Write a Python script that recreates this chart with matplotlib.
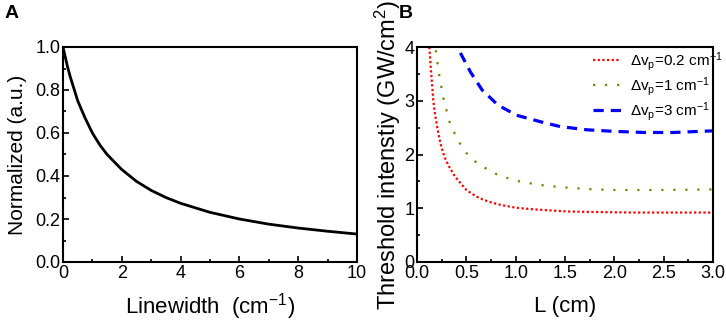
import matplotlib
matplotlib.use('Agg')
import matplotlib.pyplot as plt
from matplotlib.ticker import MultipleLocator

plt.rcParams['font.family'] = ['Liberation Sans', 'DejaVu Sans']
plt.rcParams['mathtext.fontset'] = 'custom'
plt.rcParams['mathtext.rm'] = 'Liberation Sans'
plt.rcParams['mathtext.it'] = 'Liberation Sans:italic'
plt.rcParams['mathtext.bf'] = 'Liberation Sans:bold'

# Panel A: normalized value vs linewidth
linewidth = [0, 0.05, 0.1, 0.15, 0.25, 0.5, 0.75, 1, 1.25, 1.5, 2, 2.5, 3, 3.5, 4,
             5, 6, 7, 8, 9, 10]
normalized = [1.0, 0.97, 0.94, 0.91, 0.86, 0.75, 0.67, 0.60, 0.545, 0.50, 0.43,
              0.375, 0.333, 0.30, 0.273, 0.231, 0.20, 0.176, 0.158, 0.143, 0.13]

# Panel B: threshold intensity vs length
L_red = [0.125, 0.14, 0.149, 0.165, 0.18, 0.2, 0.216, 0.23, 0.25, 0.28, 0.317,
         0.385, 0.50, 0.6, 0.67, 0.75, 0.84, 1.0, 1.18, 1.52, 1.8, 2.2, 2.6, 3.0]
I_red = [4.0, 3.6, 3.39, 3.01, 2.78, 2.56, 2.40, 2.27, 2.12, 1.95, 1.80,
         1.59, 1.34, 1.22, 1.16, 1.11, 1.065, 1.01, 0.98, 0.94, 0.93, 0.92, 0.92, 0.92]

L_olive = [0.19, 0.223, 0.266, 0.327, 0.38, 0.43, 0.50, 0.59, 0.70, 0.81, 0.935,
           1.06, 1.30, 1.55, 1.8, 2.0, 2.5, 3.0]
I_olive = [3.94, 3.50, 3.06, 2.62, 2.40, 2.22, 2.03, 1.87, 1.74, 1.63, 1.55,
           1.49, 1.42, 1.38, 1.35, 1.34, 1.34, 1.35]

L_blue = [0.44, 0.54, 0.66, 0.82, 1.01, 1.25, 1.45, 1.72, 2.0, 2.3, 2.6, 3.0]
I_blue = [3.89, 3.54, 3.2, 2.92, 2.73, 2.61, 2.52, 2.46, 2.43, 2.41, 2.41, 2.44]

labels_b = [r'$\Delta\mathregular{v_p}$=0.2 cm$^\mathregular{-1}$',
            r'$\Delta\mathregular{v_p}$=1 cm$^\mathregular{-1}$',
            r'$\Delta\mathregular{v_p}$=3 cm$^\mathregular{-1}$']

W, H = 726, 323
fig = plt.figure(figsize=(W / 100, H / 100), dpi=100)

axA = fig.add_axes([63 / W, (H - 262) / H, 294 / W, 215 / H])
axB = fig.add_axes([417 / W, (H - 262) / H, 296 / W, 215 / H])


def style(ax):
    for s in ax.spines.values():
        s.set_linewidth(1.5)
    ax.tick_params(which='both', direction='in', top=False, right=False,
                   labelsize=13, width=1.2)
    ax.tick_params(which='major', length=4, pad=2)
    ax.tick_params(which='minor', length=2)


# Panel A
axA.plot(linewidth, normalized, color='black', lw=2)
axA.set_xlim(0, 10)
axA.set_ylim(0, 1.0)
axA.xaxis.set_major_locator(MultipleLocator(2))
axA.xaxis.set_minor_locator(MultipleLocator(1))
axA.yaxis.set_major_locator(MultipleLocator(0.2))
axA.yaxis.set_minor_locator(MultipleLocator(0.1))
axA.set_yticklabels([f'{v:.1f}' for v in axA.get_yticks()])
style(axA)
axA.set_xlabel(r'Linewidth  (cm$^\mathregular{-1}$)', fontsize=16, labelpad=7)
axA.set_ylabel('Normalized (a.u.)', fontsize=15, labelpad=6)
fig.text(12 / W, 1 - 13 / H, 'A', fontsize=14, fontweight='bold', va='center', ha='center')

# Panel B
axB.plot(L_red, I_red, color='red', lw=1.6, dashes=(1, 1.1), label=labels_b[0])
axB.plot(L_olive, I_olive, color='#808000', lw=1.6, dashes=(1, 4.4), label=labels_b[1])
axB.plot(L_blue, I_blue, color='blue', lw=2.3, dashes=(3.2, 2.2), label=labels_b[2])
axB.set_xlim(0, 3.0)
axB.set_ylim(0, 4)
axB.xaxis.set_major_locator(MultipleLocator(0.5))
axB.xaxis.set_minor_locator(MultipleLocator(0.25))
axB.yaxis.set_major_locator(MultipleLocator(1))
axB.yaxis.set_minor_locator(MultipleLocator(0.5))
style(axB)
axB.set_xlabel('L (cm)', fontsize=16, labelpad=10)
axB.set_ylabel(r'Threshold intenstiy (GW/cm$^\mathregular{2}$)', fontsize=17, labelpad=1)
fig.text(406 / W, 1 - 13 / H, 'B', fontsize=14, fontweight='bold', va='center', ha='center')

axB.legend(loc='upper left', bbox_to_anchor=((593 - 417) / 296, 0.985), frameon=False,
           fontsize=11, handlelength=1.85, handletextpad=0.6, labelspacing=0.12,
           borderpad=0, borderaxespad=0)

fig.savefig('out.png', dpi=100)
